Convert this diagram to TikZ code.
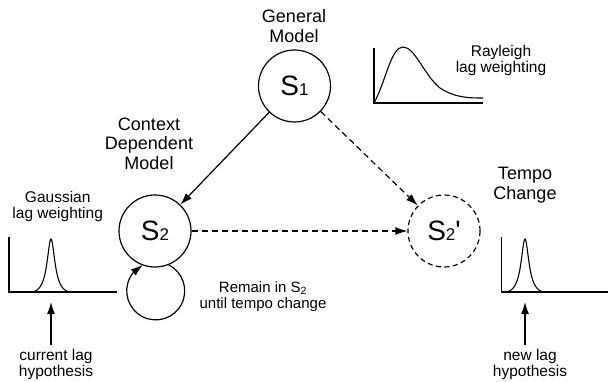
\documentclass[tikz,border=0pt]{standalone}
\usepackage{fontspec}
\setmainfont{Liberation Sans}
\usetikzlibrary{arrows.meta, bending}
\tikzset{state/.style={circle, draw, line width=1.2pt, minimum size=72pt, inner sep=0pt}}
\tikzset{new state/.style={state, dash pattern=on 5pt off 3.5pt}}
\tikzset{big label/.style={align=center, font=\fontsize{18}{19.5}\selectfont}}
\tikzset{small label/.style={align=center, font=\fontsize{15.5}{16.5}\selectfont}}
\tikzset{transition/.style={line width=1.2pt, -{Latex[length=12pt, width=8pt]}}}
\tikzset{hop/.style={transition, dash pattern=on 6pt off 4pt}}
\tikzset{axis/.style={line width=1.3pt}}
\tikzset{curve/.style={line width=1.1pt}}
\newcommand{\statename}[1]{{\fontsize{28}{28}\selectfont S}{\fontsize{17}{17}\selectfont #1}}

\begin{document}
\begin{tikzpicture}[x=1pt, y=1pt]
                \useasboundingbox (0,0) rectangle (608,381);

                % states
                \node[state] (s1) at (294.5,295) {\statename{1}};
                \node[state] (s2) at (155,150) {\statename{2}};
                \node[new state] (s2new) at (444,150) {\statename{2}{\fontsize{28}{28}\selectfont\textquotesingle}};

                % labels
                \node[big label] (general) at (294,355) {General\\Model};
                \node[big label] (context) at (149,237.5) {Context\\Dependent\\Model};
                \node[big label] (tempo) at (525,196) {Tempo\\Change};
                \node[small label] (rayleigh) at (501,320.6) {Rayleigh\\lag weighting};
                \node[small label] (gaussian) at (57.7,174.6) {Gaussian\\lag weighting};
                \node[small label, font=\fontsize{15}{16}\selectfont] (remain) at (263,84.8) {Remain in S\textsubscript{2}\\until tempo change};
                \node[small label] (curlag) at (56,16.3) {current lag\\hypothesis};
                \node[small label] (newlag) at (530,16.3) {new lag\\hypothesis};

                % transitions
                \draw[transition] (s1) -- (s2);
                \draw[hop] (s1) -- (s2new);
                \draw[hop] (s2) -- (s2new);
                \draw[transition] (s2.-68.5) arc[start angle=63.4, end angle=-243.4, radius=29];

                % rayleigh weighting
                \draw[axis] (374,333) -- (374,278) -- (483,278);
                \draw[curve] (374,278) .. controls (386,300) and (391,334) .. (403,334)
                    .. controls (415,334) and (424,306) .. (440,293)
                    .. controls (455,283) and (470,283) .. (483,283);

                % gaussian weightings, before and after the tempo change
                \foreach \x/\len in {9/117, 501.5/608} {
                    \draw[axis] (\x,144) -- (\x,89) -- (\len,89);
                }
                \foreach \c in {51,525} {
                    \draw[curve] plot[variable=\t, domain=-17.5:17.5, samples=71, smooth]
                        ({\c+\t}, {89+53*(1/(1+(\t/4.8)^2)-0.07)/0.93});
                }
                \coordinate (gL) at (51,79);
                \coordinate (gR) at (525,79);
                \draw[transition] (curlag.north -| gL) ++(0,1) -- (gL);
                \draw[transition] (newlag.north -| gR) ++(0,1) -- (gR);
\end{tikzpicture}
\end{document}
